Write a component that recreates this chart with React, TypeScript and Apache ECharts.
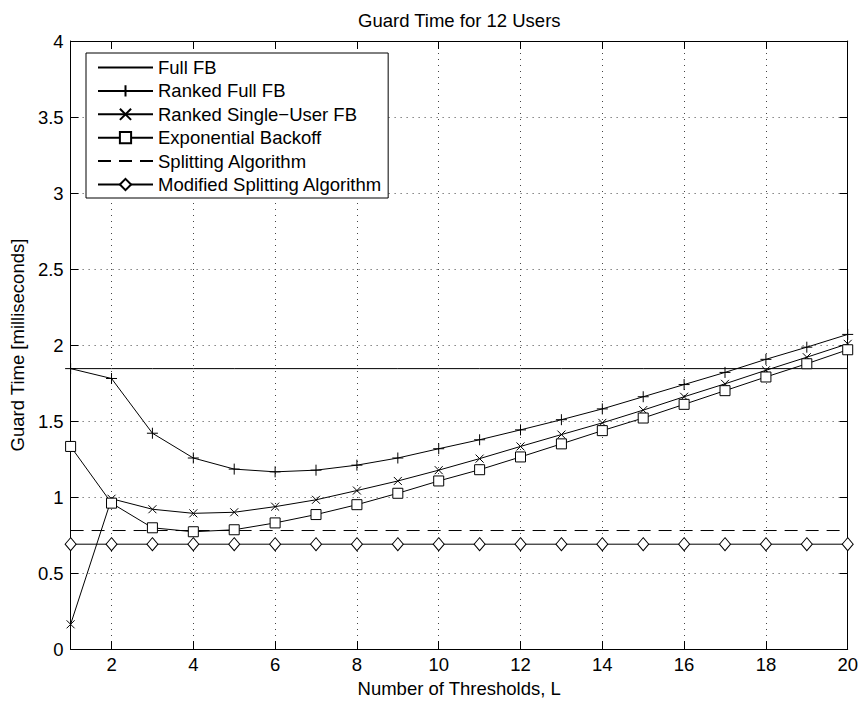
import React, { useEffect, useRef } from "react";
import * as echarts from "echarts";

const thresholds = ["1","2","3","4","5","6","7","8","9","10","11","12","13","14","15","16","17","18","19","20"];
const yTicks = { min: 0, max: 4, interval: 0.5 };

const fullFB = [1.845,1.845,1.845,1.845,1.845,1.845,1.845,1.845,1.845,1.845,1.845,1.845,1.845,1.845,1.845,1.845,1.845,1.845,1.845,1.845];
const rankedFullFB = [1.845,1.78,1.42,1.257,1.184,1.166,1.177,1.21,1.257,1.318,1.377,1.442,1.509,1.58,1.66,1.74,1.82,1.906,1.986,2.07];
const rankedSingleFB = [0.163,0.989,0.92,0.893,0.9,0.937,0.982,1.043,1.106,1.177,1.253,1.333,1.411,1.488,1.572,1.66,1.745,1.834,1.92,2.008];
const expBackoff = [1.333,0.96,0.798,0.772,0.785,0.83,0.885,0.95,1.025,1.106,1.18,1.264,1.35,1.437,1.52,1.61,1.7,1.79,1.877,1.969];
const splitting = [0.78,0.78,0.78,0.78,0.78,0.78,0.78,0.78,0.78,0.78,0.78,0.78,0.78,0.78,0.78,0.78,0.78,0.78,0.78,0.78];
const modSplitting = [0.69,0.69,0.69,0.69,0.69,0.69,0.69,0.69,0.69,0.69,0.69,0.69,0.69,0.69,0.69,0.69,0.69,0.69,0.69,0.69];

const FONT = "Liberation Sans";
const FS = 18.5;
const even = (_i: number, v: string) => Number(v) % 2 === 0;

export default function App() {
  const ref = useRef<HTMLDivElement>(null);
  useEffect(() => {
    const chart = echarts.init(ref.current!, null, { renderer: "svg" });
    const base = {
      type: "line",
      clip: false,
      lineStyle: { color: "#000", width: 1 },
      itemStyle: { color: "#fff", borderColor: "#000", borderWidth: 1 },
      emphasis: { disabled: true },
    };
    const noMark = { color: "#000", opacity: 0, borderWidth: 0 };
    const xCommon = {
      type: "category",
      data: thresholds,
      boundaryGap: false,
      axisLine: { show: true, onZero: false, lineStyle: { color: "#000", width: 1 } },
      axisTick: { show: true, inside: true, length: 8, interval: even, lineStyle: { color: "#000" } },
    };
    const yCommon = {
      type: "value",
      min: yTicks.min,
      max: yTicks.max,
      interval: yTicks.interval,
      axisLine: { show: true, lineStyle: { color: "#000", width: 1 } },
      axisTick: { show: true, inside: true, length: 8, lineStyle: { color: "#000" } },
    };
    chart.setOption({
      animation: false,
      backgroundColor: "#fff",
      textStyle: { fontFamily: FONT, color: "#000" },
      title: {
        text: "Guard Time for 12 Users",
        left: 358,
        top: 11,
        padding: 0,
        textStyle: { fontFamily: FONT, fontSize: FS, fontWeight: "normal", color: "#000" },
      },
      grid: { left: 70, right: 11, top: 41, bottom: 47 },
      legend: {
        orient: "vertical",
        left: 86,
        top: 53,
        padding: [5, 6, 4, 11],
        itemGap: 4.4,
        itemWidth: 55,
        itemHeight: 14,
        borderColor: "#000",
        borderWidth: 1,
        backgroundColor: "#fff",
        textStyle: { fontFamily: FONT, fontSize: FS, color: "#000" },
        data: [
          "Full FB",
          "Ranked Full FB",
          "Ranked Single\u2212User FB",
          "Exponential Backoff",
          "Splitting Algorithm",
          "Modified Splitting Algorithm",
        ],
      },
      xAxis: [
        {
          ...xCommon,
          position: "bottom",
          name: "Number of Thresholds, L",
          nameLocation: "middle",
          nameGap: 29,
          nameTextStyle: { fontFamily: FONT, fontSize: FS, color: "#000" },
          axisLabel: { show: true, interval: even, margin: 6, fontFamily: FONT, fontSize: FS, color: "#000" },
          splitLine: { show: true, interval: even, lineStyle: { color: "#444", width: 1, type: [1, 5] } },
        },
        {
          ...xCommon,
          position: "top",
          axisLabel: { show: false },
          splitLine: { show: false },
        },
      ],
      yAxis: [
        {
          ...yCommon,
          position: "left",
          name: "Guard Time [milliseconds]",
          nameLocation: "middle",
          nameGap: 39,
          nameTextStyle: { fontFamily: FONT, fontSize: FS, color: "#000" },
          axisLabel: { margin: 7, fontFamily: FONT, fontSize: FS, color: "#000" },
          splitLine: { show: true, lineStyle: { color: "#444", width: 1, type: [1, 5] } },
        },
        {
          ...yCommon,
          position: "right",
          axisLabel: { show: false },
          splitLine: { show: false },
        },
      ],
      series: [
        { ...base, name: "Full FB", data: fullFB, symbol: "circle", showSymbol: false, itemStyle: noMark },
        {
          ...base,
          name: "Ranked Full FB",
          data: rankedFullFB,
          symbol: "path://M5,0L5,10M0,5L10,5",
          symbolSize: 11,
        },
        {
          ...base,
          name: "Ranked Single\u2212User FB",
          data: rankedSingleFB,
          symbol: "path://M0,0L10,10M10,0L0,10",
          symbolSize: 8,
        },
        {
          ...base,
          name: "Exponential Backoff",
          data: expBackoff,
          symbol: "path://M0,0L10,0L10,10L0,10Z",
          symbolSize: 10,
        },
        {
          ...base,
          name: "Splitting Algorithm",
          data: splitting,
          symbol: "circle",
          showSymbol: false,
          itemStyle: noMark,
          lineStyle: { color: "#000", width: 1, type: [13, 8] },
        },
        {
          ...base,
          name: "Modified Splitting Algorithm",
          data: modSplitting,
          symbol: "path://M5,0L10,6L5,12L0,6Z",
          symbolSize: [11, 13],
        },
      ],
    });
    return () => chart.dispose();
  }, []);
  return <div ref={ref} style={{ width: 861, height: 703, position: "absolute", left: 0, top: 0 }} />;
}
